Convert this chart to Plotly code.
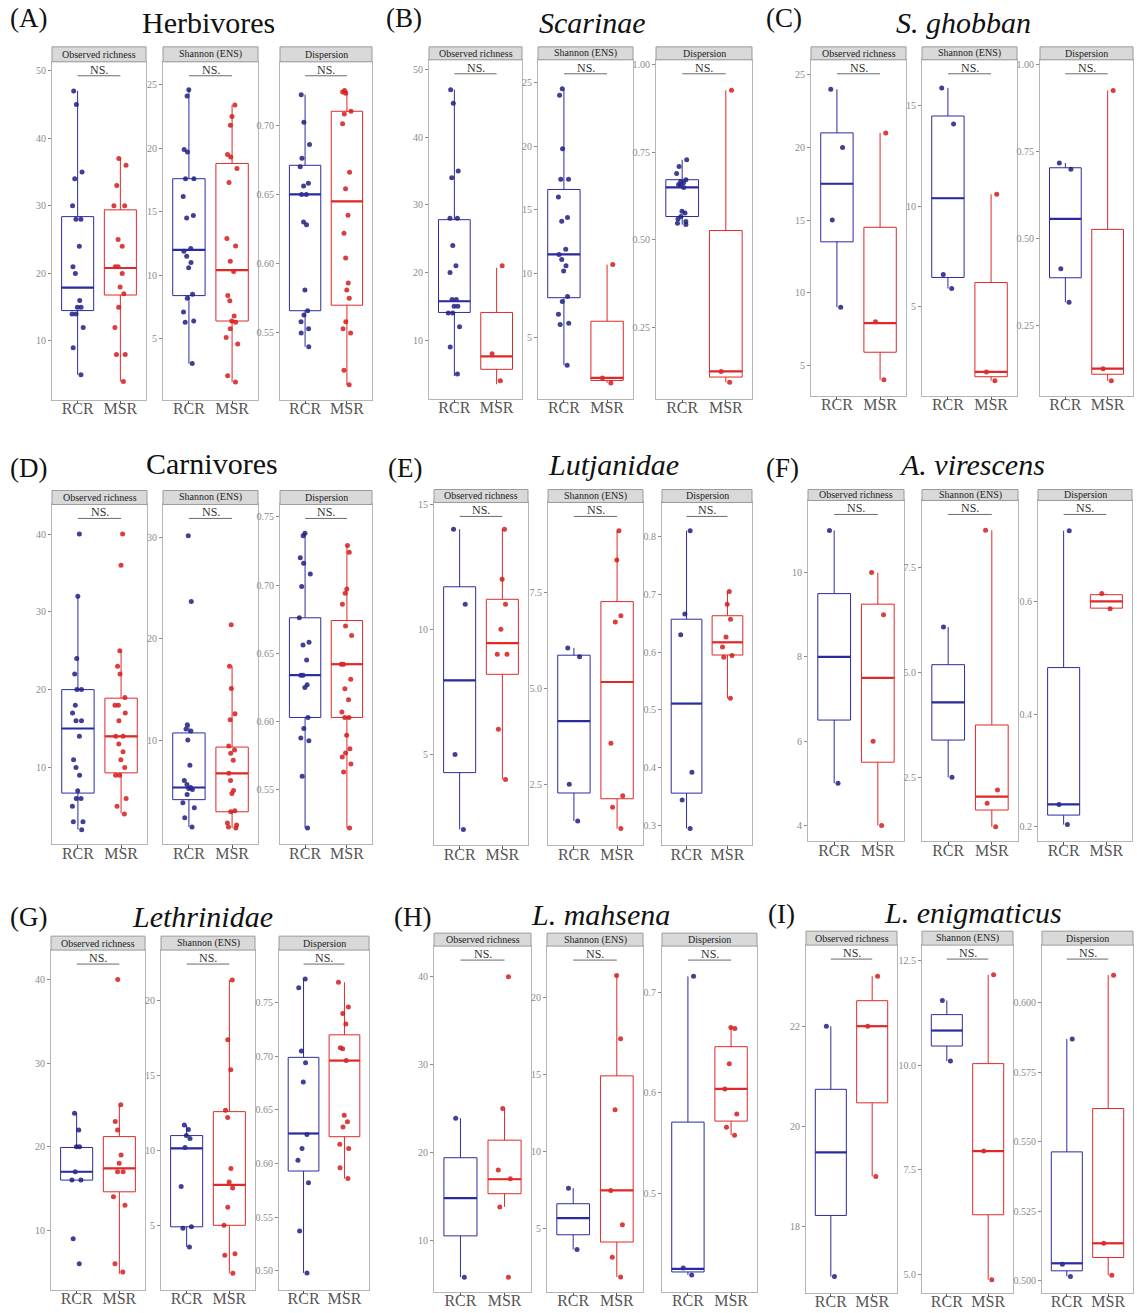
import plotly.graph_objects as go

# ---------------- data ----------------
GROUPS = ["RCR", "MSR"]
METRICS = ["Observed richness", "Shannon (ENS)", "Dispersion"]
PANEL_LETTERS = ["(A)", "(B)", "(C)", "(D)", "(E)", "(F)", "(G)", "(H)", "(I)"]
PANEL_TITLES = ["Herbivores", "Scarinae", "S. ghobban", "Carnivores", "Lutjanidae",
                "A. virescens", "Lethrinidae", "L. mahsena", "L. enigmaticus"]
TITLE_ITALIC = [False, True, True, False, True, True, True, True, True]
SIG_LABEL = "NS."

# sample points; box stats = [lower whisker, q1, median, q3, upper whisker]
A_rich_rcr = [47, 45, 35, 34, 30, 28, 28, 24, 21, 20, 16, 15, 15, 14, 14, 12, 9, 5]
A_rich_rcr_box = [5, 14.5, 17.9, 28.4, 47]
A_rich_msr = [37, 36, 33, 30, 30, 25, 24, 21, 21, 20, 18, 17, 15, 12, 8, 8, 4]
A_rich_msr_box = [4, 16.8, 20.8, 29.4, 37]
A_shan_rcr = [24.6, 24.1, 19.9, 19.7, 17.6, 17.6, 16.2, 14.7, 14.5, 12.1, 11.9, 11.5, 11.0, 10.6, 8.5, 8.2, 7.1, 6.4, 6.3, 3.05]
A_shan_rcr_box = [3.05, 8.4, 12.0, 17.6, 24.6]
A_shan_msr = [23.4, 22.5, 21.8, 19.5, 19.3, 18.4, 17.3, 12.9, 12.3, 11.1, 10.3, 8.4, 8.0, 6.8, 6.4, 6.3, 5.8, 5.1, 4.6, 2.1, 1.6]
A_shan_msr_box = [1.6, 6.4, 10.4, 18.8, 23.4]
A_disp_rcr = [0.722, 0.702, 0.686, 0.676, 0.670, 0.658, 0.656, 0.650, 0.650, 0.630, 0.628, 0.581, 0.566, 0.563, 0.558, 0.553, 0.550, 0.540]
A_disp_rcr_box = [0.540, 0.566, 0.650, 0.671, 0.722]
A_disp_msr = [0.725, 0.724, 0.723, 0.710, 0.708, 0.701, 0.666, 0.654, 0.635, 0.622, 0.604, 0.586, 0.581, 0.575, 0.558, 0.553, 0.550, 0.523, 0.5125]
A_disp_msr_box = [0.5125, 0.570, 0.645, 0.710, 0.725]

B_rich_rcr = [47, 45, 35, 34, 28, 28, 24, 21, 20, 16, 16, 15, 15, 14, 14, 12, 9, 5]
B_rich_rcr_box = [4.7, 14.1, 15.75, 27.8, 47]
B_rich_msr = [21, 8, 4]
B_rich_msr_box = [3.5, 5.7, 7.6, 14.1, 20.7]
B_shan_rcr = [24.5, 24.0, 19.8, 17.4, 17.4, 16.0, 14.4, 14.1, 11.9, 11.5, 11.1, 10.6, 10.2, 8.2, 7.8, 6.8, 6.1, 6.0, 2.8]
B_shan_rcr_box = [2.8, 8.1, 11.5, 16.6, 24.5]
B_shan_msr = [10.7, 1.8, 1.4]
B_shan_msr_box = [1.4, 1.6, 1.8, 6.25, 10.7]
B_disp_rcr = [0.729, 0.710, 0.690, 0.672, 0.667, 0.663, 0.658, 0.655, 0.650, 0.582, 0.577, 0.567, 0.560, 0.553, 0.548, 0.544]
B_disp_rcr_box = [0.544, 0.567, 0.650, 0.672, 0.729]
B_disp_msr = [0.927, 0.125, 0.094]
B_disp_msr_box = [0.094, 0.109, 0.125, 0.527, 0.927]

C_rich_rcr = [24, 20, 15, 9]
C_rich_rcr_box = [9, 13.5, 17.5, 21, 24]
C_rich_msr = [21, 8, 4]
C_rich_msr_box = [4, 5.9, 7.9, 14.5, 21]
C_shan_rcr = [15.9, 14.1, 6.6, 5.9]
C_shan_rcr_box = [5.9, 6.45, 10.4, 14.5, 15.9]
C_shan_msr = [10.6, 1.74, 1.3]
C_shan_msr_box = [1.3, 1.5, 1.74, 6.2, 10.6]
C_disp_rcr = [0.718, 0.700, 0.414, 0.318]
C_disp_rcr_box = [0.318, 0.388, 0.557, 0.704, 0.718]
C_disp_msr = [0.926, 0.127, 0.092]
C_disp_msr_box = [0.092, 0.111, 0.127, 0.527, 0.926]

D_rich_rcr = [40, 32, 24, 22, 20, 20, 18, 17, 16, 16, 14, 11, 10, 9, 7, 6, 6, 5, 3, 3, 2]
D_rich_rcr_box = [2, 6.7, 15, 20, 32]
D_rich_msr = [40, 36, 25, 23, 22, 19, 18, 18, 17, 16, 14, 14, 13, 12, 11, 10, 9, 9, 6, 5, 4]
D_rich_msr_box = [4.1, 9.3, 14, 18.9, 25]
D_shan_rcr = [30.2, 23.7, 11.5, 11.1, 10.9, 10.0, 7.5, 6.0, 5.6, 5.3, 5.2, 5.1, 4.6, 3.8, 3.3, 2.3, 1.4]
D_shan_rcr_box = [1.4, 4.1, 5.3, 10.7, 11.5]
D_shan_msr = [21.4, 17.3, 15.1, 12.6, 12.0, 9.4, 9.0, 8.7, 8.0, 6.7, 6.0, 5.0, 4.7, 3.0, 2.9, 1.8, 1.6, 1.4, 1.3]
D_shan_msr_box = [1.3, 2.9, 6.7, 9.3, 17.3]
D_disp_rcr = [0.738, 0.736, 0.720, 0.716, 0.708, 0.699, 0.676, 0.658, 0.656, 0.645, 0.634, 0.634, 0.627, 0.625, 0.603, 0.595, 0.588, 0.586, 0.560, 0.522]
D_disp_rcr_box = [0.522, 0.603, 0.634, 0.676, 0.738]
D_disp_msr = [0.729, 0.724, 0.697, 0.694, 0.686, 0.670, 0.663, 0.642, 0.642, 0.631, 0.624, 0.616, 0.607, 0.603, 0.603, 0.590, 0.580, 0.577, 0.574, 0.569, 0.563, 0.522]
D_disp_msr_box = [0.522, 0.603, 0.642, 0.674, 0.729]

E_rich_rcr = [14, 11, 5, 2]
E_rich_rcr_box = [2, 4.27, 7.96, 11.7, 14]
E_rich_msr = [14, 12, 11, 10, 9, 9, 6, 4]
E_rich_msr_box = [4, 8.2, 9.45, 11.2, 14]
E_shan_rcr = [6.06, 5.83, 2.5, 1.54]
E_shan_rcr_box = [1.54, 2.27, 4.15, 5.87, 6.06]
E_shan_msr = [9.12, 8.36, 6.9, 6.74, 3.57, 2.2, 1.9, 1.34]
E_shan_msr_box = [1.34, 2.12, 5.17, 7.27, 9.12]
E_disp_rcr = [0.81, 0.666, 0.63, 0.392, 0.344, 0.295]
E_disp_rcr_box = [0.295, 0.356, 0.511, 0.657, 0.81]
E_disp_msr = [0.705, 0.683, 0.657, 0.626, 0.609, 0.594, 0.591, 0.52]
E_disp_msr_box = [0.52, 0.595, 0.617, 0.663, 0.705]

F_rich_rcr = [11, 5]
F_rich_rcr_box = [5, 6.5, 8, 9.5, 11]
F_rich_msr = [10, 9, 6, 4]
F_rich_msr_box = [4, 5.5, 7.5, 9.25, 10]
F_shan_rcr = [6.09, 2.5]
F_shan_rcr_box = [2.5, 3.39, 4.29, 5.19, 6.09]
F_shan_msr = [8.4, 2.2, 1.88, 1.32]
F_shan_msr_box = [1.32, 1.72, 2.04, 3.75, 8.4]
F_disp_rcr = [0.727, 0.239, 0.203]
F_disp_rcr_box = [0.203, 0.22, 0.239, 0.483, 0.727]
F_disp_msr = [0.615, 0.588]
F_disp_msr_box = [0.588, 0.589, 0.601, 0.613, 0.615]

G_rich_rcr = [24, 22, 20, 20, 17, 16, 16, 9, 6]
G_rich_rcr_box = [16, 16, 17, 19.9, 24]
G_rich_msr = [40, 25, 23, 22, 19, 18, 17, 17, 14, 13, 6, 5]
G_rich_msr_box = [4.8, 14.6, 17.4, 21.2, 25]
G_shan_rcr = [11.7, 11.4, 11.0, 10.8, 10.2, 7.6, 4.9, 4.8, 3.55]
G_shan_rcr_box = [3.55, 4.9, 10.15, 11.0, 11.7]
G_shan_msr = [21.4, 17.4, 15.4, 12.7, 12.2, 8.8, 7.9, 7.5, 6.2, 5.0, 3.1, 3.0, 1.8]
G_shan_msr_box = [1.8, 5.0, 7.7, 12.6, 21.4]
G_disp_rcr = [0.772, 0.764, 0.705, 0.694, 0.676, 0.627, 0.614, 0.603, 0.582, 0.537, 0.498]
G_disp_rcr_box = [0.498, 0.593, 0.628, 0.699, 0.772]
G_disp_msr = [0.769, 0.746, 0.740, 0.730, 0.708, 0.707, 0.696, 0.645, 0.639, 0.634, 0.618, 0.614, 0.596, 0.586]
G_disp_msr_box = [0.586, 0.625, 0.696, 0.72, 0.769]

H_rich_rcr = [23.9, 5.8]
H_rich_rcr_box = [5.8, 10.5, 14.8, 19.4, 23.9]
H_rich_msr = [40, 25, 18, 17, 13.8, 5.8]
H_rich_msr_box = [13.8, 15.3, 16.95, 21.4, 25]
H_shan_rcr = [7.63, 3.66]
H_shan_rcr_box = [3.66, 4.61, 5.69, 6.62, 7.63]
H_shan_msr = [21.4, 17.3, 12.7, 7.48, 5.26, 3.16, 1.87]
H_shan_msr_box = [1.87, 4.14, 7.48, 14.9, 21.4]
H_disp_rcr = [0.716, 0.426, 0.419]
H_disp_rcr_box = [0.419, 0.422, 0.425, 0.571, 0.716]
H_disp_msr = [0.665, 0.664, 0.629, 0.604, 0.579, 0.566, 0.558]
H_disp_msr_box = [0.558, 0.572, 0.604, 0.646, 0.665]

I_rich_rcr = [22, 17]
I_rich_rcr_box = [17, 18.22, 19.48, 20.74, 22]
I_rich_msr = [23, 22, 19]
I_rich_msr_box = [19, 20.47, 22, 22.51, 23]
I_shan_rcr = [11.55, 10.1]
I_shan_rcr_box = [10.1, 10.46, 10.83, 11.21, 11.55]
I_shan_msr = [12.16, 7.95, 4.88]
I_shan_msr_box = [4.88, 6.43, 7.95, 10.04, 12.16]
I_disp_rcr = [0.587, 0.506, 0.5016]
I_disp_rcr_box = [0.5016, 0.5036, 0.5063, 0.5464, 0.587]
I_disp_msr = [0.610, 0.5135, 0.502]
I_disp_msr_box = [0.502, 0.5084, 0.5135, 0.562, 0.610]

# y tick values per panel (rich, shannon, dispersion)
A_ticks = [[10, 20, 30, 40, 50], [5, 10, 15, 20, 25], [0.55, 0.60, 0.65, 0.70]]
B_ticks = [[10, 20, 30, 40, 50], [5, 10, 15, 20, 25], [0.25, 0.50, 0.75, 1.00]]
C_ticks = [[5, 10, 15, 20, 25], [5, 10, 15], [0.25, 0.50, 0.75, 1.00]]
D_ticks = [[10, 20, 30, 40], [10, 20, 30], [0.55, 0.60, 0.65, 0.70, 0.75]]
E_ticks = [[5, 10, 15], [2.5, 5.0, 7.5], [0.3, 0.4, 0.5, 0.6, 0.7, 0.8]]
F_ticks = [[4, 6, 8, 10], [2.5, 5.0, 7.5], [0.2, 0.4, 0.6]]
G_ticks = [[10, 20, 30, 40], [5, 10, 15, 20], [0.50, 0.55, 0.60, 0.65, 0.70, 0.75]]
H_ticks = [[10, 20, 30, 40], [5, 10, 15, 20], [0.5, 0.6, 0.7]]
I_ticks = [[18, 20, 22], [5.0, 7.5, 10.0, 12.5], [0.500, 0.525, 0.550, 0.575, 0.600]]
# tick label decimals per panel
A_dec = [0, 0, 2]; B_dec = [0, 0, 2]; C_dec = [0, 0, 2]
D_dec = [0, 0, 2]; E_dec = [0, 1, 1]; F_dec = [0, 1, 1]
G_dec = [0, 0, 2]; H_dec = [0, 0, 1]; I_dec = [0, 1, 3]

g = globals()
PANEL_KEYS = ["A", "B", "C", "D", "E", "F", "G", "H", "I"]
MKEYS = ["rich", "shan", "disp"]

# ---------------- layout geometry (pixels) ----------------
W, H = 1137, 1313
PANEL_X = [
    [(52, 146), (163, 258), (280, 372)],
    [(429, 522), (538, 633), (656, 752)],
    [(811, 906), (922, 1017), (1040, 1133)],
    [(52, 147), (163, 258), (280, 372)],
    [(434, 528), (548, 643), (662, 752)],
    [(808, 904), (922, 1018), (1038, 1132)],
    [(51, 145), (161, 255), (279, 369)],
    [(434, 531), (547, 643), (662, 757)],
    [(806, 897), (922, 1013), (1042, 1133)],
]
# (strip top, plot top, plot bottom)
PANEL_Y = [(43, 58, 397), (43, 56, 396), (43, 56, 393),
           (488, 502, 843), (487, 500, 844), (487, 498, 840),
           (935, 949, 1290), (932, 945, 1292), (930, 944, 1293)]
PANEL_YR = [
    [[1.3, 51.3], [0.2, 26.8], [0.5017, 0.7457]],
    [[1.35, 51.4], [0.16, 26.78], [0.047, 1.014]],
    [[2.9, 26.03], [0.55, 17.3], [0.049, 1.014]],
    [[0.1, 43.8], [-0.33, 33.3], [0.510, 0.759]],
    [[1.36, 15.07], [0.9, 9.86], [0.2655, 0.859]],
    [[3.62, 11.71], [0.97, 9.11], [0.173, 0.781]],
    [[2.85, 43.5], [0.67, 23.4], [0.482, 0.799]],
    [[4.1, 43.5], [0.9, 23.3], [0.402, 0.746]],
    [[16.67, 23.62], [4.56, 12.87], [0.4956, 0.6208]],
]
LETTER_POS = [(8, 14), (384, 14), (764, 14), (8, 465), (386, 465), (764, 465),
              (8, 916), (392, 916), (766, 913)]
TITLE_POS = [(208, 19), (592, 19), (963, 19), (212, 461), (613, 462), (972, 462),
             (202, 915), (600, 913), (973, 911)]

SERIF = "Liberation Serif, Times New Roman, DejaVu Serif, serif"
LINE_COL = {"RCR": "#2b2ba0", "MSR": "#e02828"}
PT_COL = {"RCR": "#1e1e84", "MSR": "#d41c1c"}
BOX_W = 0.75


def fx(px):
    return px / W


def fy(py):
    return 1 - py / H


fig = go.Figure()
layout = dict(width=W, height=H, margin=dict(l=0, r=0, t=0, b=0),
              paper_bgcolor="white", plot_bgcolor="white", showlegend=False,
              boxmode="overlay", font=dict(family=SERIF))
shapes = []
annotations = []

for p, key in enumerate(PANEL_KEYS):
    strip_top, plot_top, plot_bot = PANEL_Y[p]
    ticks = g[f"{key}_ticks"]
    decs = g[f"{key}_dec"]
    for m, mk in enumerate(MKEYS):
        idx = p * 3 + m + 1
        sfx = "" if idx == 1 else str(idx)
        xa, ya = "x" + sfx, "y" + sfx
        x0, x1 = PANEL_X[p][m]
        for gi, grp in enumerate(GROUPS):
            bx = g[f"{key}_{mk}_{grp.lower()}_box"]
            fig.add_trace(go.Box(
                x=[grp], lowerfence=[bx[0]], q1=[bx[1]], median=[bx[2]],
                q3=[bx[3]], upperfence=[bx[4]], width=BOX_W, boxpoints=False,
                whiskerwidth=0, fillcolor="rgba(255,255,255,0)",
                line=dict(color=LINE_COL[grp], width=1),
                xaxis=xa, yaxis=ya, hoverinfo="skip"))
            shapes.append(dict(type="line", xref=xa, yref=ya,
                               x0=gi - BOX_W / 2, x1=gi + BOX_W / 2,
                               y0=bx[2], y1=bx[2],
                               line=dict(color=LINE_COL[grp], width=2.2)))
        for gi, grp in enumerate(GROUPS):
            pts = g[f"{key}_{mk}_{grp.lower()}"]
            fig.add_trace(go.Box(
                x=[grp] * len(pts), y=pts, boxpoints="all", jitter=0.45,
                pointpos=0, width=BOX_W, whiskerwidth=0,
                fillcolor="rgba(0,0,0,0)",
                line=dict(color="rgba(0,0,0,0)", width=0),
                marker=dict(color=PT_COL[grp], size=5, opacity=0.85),
                xaxis=xa, yaxis=ya, hoverinfo="y"))
        ph = plot_bot - plot_top
        layout["xaxis" + sfx] = dict(
            domain=[fx(x0), fx(x1)], anchor=ya, type="category",
            categoryorder="array", categoryarray=GROUPS, range=[-0.6, 1.6],
            showline=True, mirror=True, linecolor="#b5b5b5", linewidth=1,
            ticks="outside", ticklen=3, tickcolor="#555555",
            ticklabelstandoff=-9,
            tickfont=dict(family=SERIF, size=16, color="#555555"),
            showgrid=False, zeroline=False)
        layout["yaxis" + sfx] = dict(
            domain=[fy(plot_bot), fy(plot_top)], anchor=xa,
            range=PANEL_YR[p][m], tickvals=ticks[m],
            ticktext=[f"{v:.{decs[m]}f}" for v in ticks[m]],
            showline=True, mirror=True, linecolor="#b5b5b5", linewidth=1,
            ticks="outside", ticklen=3, tickcolor="#8a8a8a",
            tickfont=dict(family=SERIF, size=10, color="#8a8a8a"),
            showgrid=False, zeroline=False)
        shapes.append(dict(type="rect", xref="paper", yref="paper",
                           x0=fx(x0), x1=fx(x1), y0=fy(plot_top), y1=fy(strip_top),
                           fillcolor="#d9d9d9", line=dict(color="#9a9a9a", width=1),
                           layer="above"))
        annotations.append(dict(xref="paper", yref="paper",
                                x=fx((x0 + x1) / 2), y=fy((strip_top + plot_top) / 2),
                                text=METRICS[m], showarrow=False,
                                font=dict(family=SERIF, size=10, color="#222222"),
                                xanchor="center", yanchor="middle"))
        yline = 1 - 14 / ph
        shapes.append(dict(type="line", xref=xa, yref=ya + " domain",
                           x0=0, x1=1, y0=yline, y1=yline,
                           line=dict(color="#6a6a6a", width=1)))
        annotations.append(dict(xref=xa, yref=ya + " domain", x=0.5, y=yline,
                                text=SIG_LABEL, showarrow=False,
                                yanchor="bottom", yshift=-3,
                                font=dict(family=SERIF, size=12, color="#333333")))
    lx, ly = LETTER_POS[p]
    annotations.append(dict(xref="paper", yref="paper", x=fx(lx), y=fy(ly),
                            text=PANEL_LETTERS[p], showarrow=False,
                            xanchor="left", yanchor="middle",
                            font=dict(family=SERIF, size=27, color="#111111")))
    tx, ty = TITLE_POS[p]
    ttxt = f"<i>{PANEL_TITLES[p]}</i>" if TITLE_ITALIC[p] else PANEL_TITLES[p]
    annotations.append(dict(xref="paper", yref="paper", x=fx(tx), y=fy(ty),
                            text=ttxt, showarrow=False,
                            xanchor="center", yanchor="middle",
                            font=dict(family=SERIF, size=30, color="#111111")))

layout["shapes"] = shapes
layout["annotations"] = annotations
fig.update_layout(**layout)
fig.write_html(
    "out.html",
    config={"displayModeBar": False},
    post_script="document.body.style.margin='0';document.body.style.overflow='hidden';",
)
